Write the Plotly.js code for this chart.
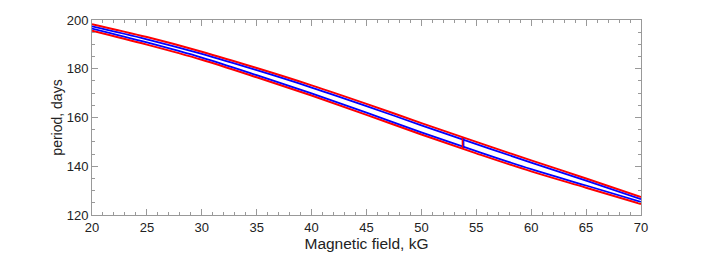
<!DOCTYPE html>
<html>
<head>
<meta charset="utf-8">
<script src="https://cdn.plot.ly/plotly-3.0.1.min.js"></script>
<style>html,body{margin:0;padding:0;background:#fff;}#chart{width:708px;height:254px;}</style>
</head>
<body>
<div id="chart"></div>
<script>
const fieldKG = [20, 25, 30, 35, 40, 45, 50, 55, 60, 65, 70];
const upperRed  = [198.3, 193.0, 187.0, 180.3, 173.2, 165.6, 157.7, 150.0, 142.4, 135.0, 127.4];
const upperBlue = [197.4, 192.1, 186.1, 179.4, 172.3, 164.7, 156.8, 149.1, 141.5, 134.1, 126.5];
const lowerBlue = [196.5, 190.8, 184.6, 177.4, 169.9, 162.0, 153.9, 146.2, 138.8, 132.1, 125.4];
const lowerRed  = [195.6, 189.9, 183.7, 176.5, 169.0, 161.1, 153.0, 145.3, 137.9, 131.2, 124.5];
const markX = [53.76, 53.76];
const markYRed = [147.2, 151.9];
const markXBlue = [53.86, 53.86];
const markYBlue = [147.6, 151.5];

const RED = '#ff0000', BLUE = '#0000ff';
function line(x, y, color, w) {
  return {x: x, y: y, mode: 'lines', line: {color: color, width: w, shape: 'spline'}, hoverinfo: 'skip', showlegend: false};
}
const data = [
  line(fieldKG, upperRed, RED, 2),
  line(fieldKG, lowerRed, RED, 2),
  line(fieldKG, upperBlue, BLUE, 1.8),
  line(fieldKG, lowerBlue, BLUE, 1.8),
  line(markX, markYRed, RED, 2),
  line(markXBlue, markYBlue, BLUE, 1.2)
];
const FONT = 'Liberation Sans, Arial, sans-serif';
const axisCommon = {
  showgrid: false, zeroline: false, showline: true, linecolor: '#999999', linewidth: 1,
  mirror: 'allticks', ticks: 'inside', ticklen: 6, tickcolor: '#999999', tickwidth: 1,
  tickfont: {family: FONT, size: 13, color: '#222'}
};
const layout = {
  width: 708, height: 254,
  margin: {l: 92, r: 67, t: 20, b: 39},
  paper_bgcolor: '#fff', plot_bgcolor: '#fff',
  xaxis: Object.assign({}, axisCommon, {
    range: [20, 70], dtick: 5, tick0: 20,
    minor: {ticks: 'inside', dtick: 1, ticklen: 3, tickcolor: '#999999'},
    title: {text: 'Magnetic field, kG', font: {family: FONT, size: 15.5, color: '#222'}, standoff: 3}
  }),
  yaxis: Object.assign({}, axisCommon, {
    range: [120, 200], dtick: 20, tick0: 120,
    minor: {ticks: 'inside', dtick: 5, ticklen: 3, tickcolor: '#999999'},
    title: {text: 'period, days', font: {family: FONT, size: 14, color: '#222'}, standoff: 0}
  })
};
Plotly.newPlot('chart', data, layout, {staticPlot: true, displayModeBar: false}).then(function () {
  // nudge y-axis title closer to tick labels like the reference
  const yt = document.querySelector('.g-ytitle text');
  if (yt) {
    const y = parseFloat(yt.getAttribute('y'));
    const nx = 62;
    yt.setAttribute('x', nx);
    yt.setAttribute('transform', 'rotate(-90,' + nx + ',' + y + ')');
  }
});
</script>
</body>
</html>
